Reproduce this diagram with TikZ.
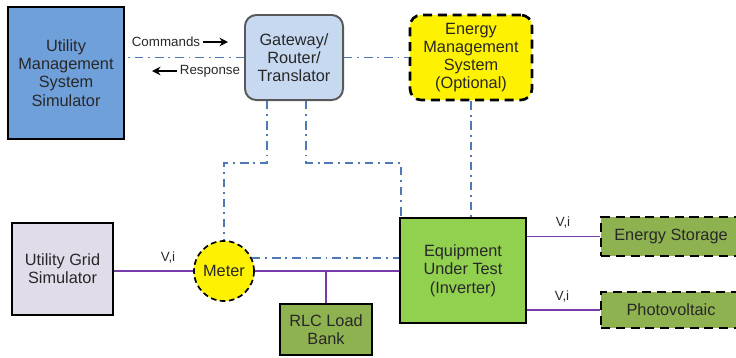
\documentclass[tikz,border=0pt]{standalone}
\usepackage{fontspec}
\setmainfont{Liberation Sans}
\usetikzlibrary{arrows.meta}

\definecolor{umsblue}{RGB}{112,160,218}
\definecolor{gwblue}{RGB}{198,217,241}
\definecolor{gridlav}{RGB}{224,220,234}
\definecolor{eutgreen}{RGB}{146,208,80}
\definecolor{olivegreen}{RGB}{143,178,80}
\definecolor{wirepurple}{RGB}{120,60,170}
\definecolor{ctrlblue}{RGB}{80,120,180}
\definecolor{textgray}{RGB}{40,40,40}

\begin{document}
\begin{tikzpicture}[x=0.025cm, y=-0.025cm,
    block/.style={rectangle, draw=black, line width=2pt, align=center, inner sep=1pt, text=textgray, font=\fontsize{11.6}{13}\selectfont},
    optional/.style={block, line width=1.9pt, dash pattern=on 6.5pt off 4pt},
    small/.style={text=textgray, inner sep=2pt, font=\fontsize{9.5}{11}\selectfont},
    ctrl/.style={draw=ctrlblue, line width=1.3pt, dash pattern=on 6pt off 3.5pt on 1.3pt off 3.5pt},
    wire/.style={draw=wirepurple, line width=1.3pt},
    pointer/.style={draw=black, line width=1.5pt, -{Stealth[length=6pt,width=6pt]}}]
    \useasboundingbox (0,0) rectangle (736,357);
    \node (ums) [block, fill=umsblue, minimum width=2.9cm, minimum height=3.3cm] at (66,73) {Utility\\Management\\System\\Simulator};
    \node (gw) [block, fill=gwblue, draw=black!65, line width=1.4pt, rounded corners=8pt, minimum width=2.45cm, minimum height=2.125cm] at (294,57.5) {Gateway/\\Router/\\Translator};
    \node (ems) [optional, fill=yellow, rounded corners=8pt, minimum width=3.05cm, minimum height=2.125cm] at (471,57.5) {Energy\\Management\\System\\(Optional)};
    \node (grid) [block, fill=gridlav, minimum width=2.525cm, minimum height=2.3cm] at (62.5,269) {Utility Grid\\Simulator};
    \node (meter) [block, circle, fill=yellow, line width=1.2pt, dash pattern=on 4pt off 2.5pt, minimum size=1.5cm] at (224,271) {Meter};
    \node (rlc) [block, fill=olivegreen, line width=1.5pt, minimum width=2.3cm, minimum height=1.275cm] at (326,329.5) {RLC Load\\Bank};
    \node (eut) [block, fill=eutgreen, minimum width=3.15cm, minimum height=2.625cm] at (463,270.5) {Equipment\\Under Test\\(Inverter)};
    \node (es) [optional, fill=olivegreen, minimum width=3.5cm, minimum height=0.975cm] at (671,236.5) {Energy Storage};
    \node (pv) [optional, fill=olivegreen, minimum width=3.5cm, minimum height=0.9cm] at (671,310) {Photovoltaic};

    \node (cmd) [small] at (166,42) {Commands};
    \coordinate (cmdtip) at (228,42);
    \draw [pointer] (cmd.east) -- (cmdtip);
    \node (resp) [small] at (210,71) {Response};
    \coordinate (resptip) at (152,71);
    \draw [pointer] (resp.west) -- (resptip);

    \draw [ctrl] (gw.west) -- (gw.west -| ums.east);
    \draw [ctrl] (gw.east) -- (ems.west);
    \coordinate (g1) at (267,163);
    \coordinate (g2) at (306,163);
    \coordinate (g3) at (401,163);
    \draw [ctrl] (gw.south -| g1) -- (g1) -| (meter.north);
    \draw [ctrl] (gw.south -| g2) -- (g2) -- (g3) -- (g3 |- eut.north);
    \draw [ctrl] (ems.south) -- (ems.south |- eut.north);
    \draw [ctrl] (meter.25) -- (meter.25 -| eut.west);

    \draw [wire] (grid.east |- meter.west) -- (meter.west);
    \draw [wire] (meter.east) -- (meter.east -| eut.west);
    \draw [wire] (rlc.north) -- (rlc.north |- meter.east);
    \draw [wire] (es.west -| eut.east) -- (es.west);
    \draw [wire] (pv.west -| eut.east) -- (pv.west);

    \node (vi1) [small] at (168,258) {V,i};
    \node (vi2) [small] at (563,223) {V,i};
    \node (vi3) [small] at (562,297) {V,i};
\end{tikzpicture}
\end{document}
